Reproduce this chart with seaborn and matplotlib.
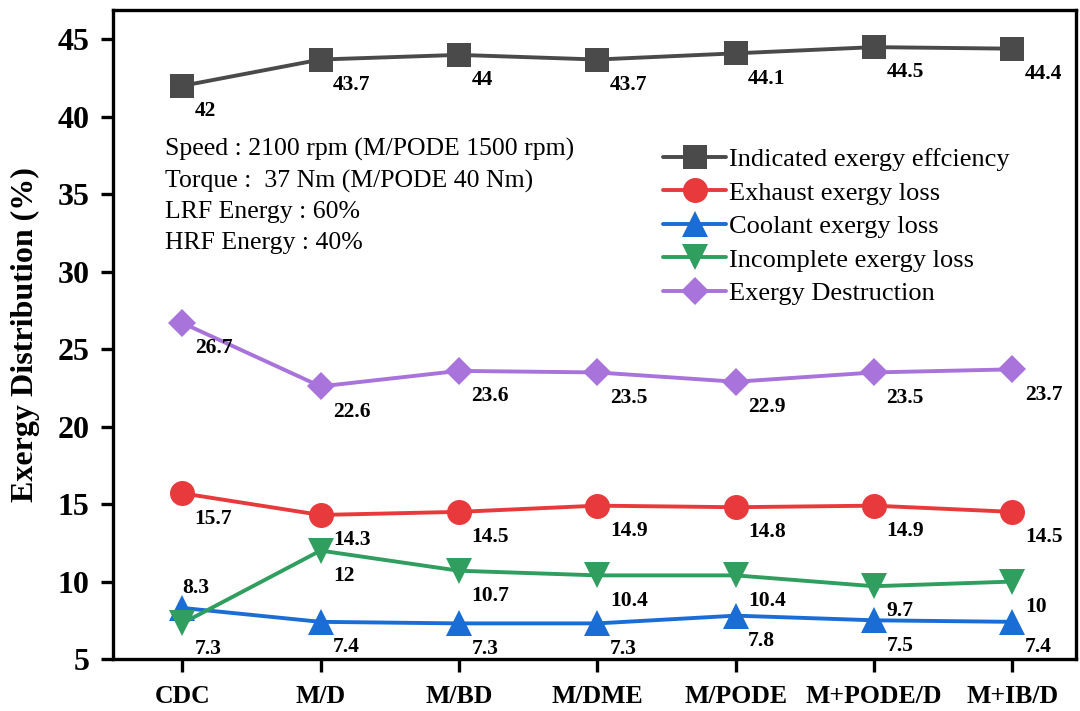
import matplotlib
matplotlib.use("Agg")
import matplotlib.pyplot as plt
import seaborn as sns

categories = ["CDC", "M/D", "M/BD", "M/DME", "M/PODE", "M+PODE/D", "M+IB/D"]
indicated = [42, 43.7, 44, 43.7, 44.1, 44.5, 44.4]
exhaust = [15.7, 14.3, 14.5, 14.9, 14.8, 14.9, 14.5]
coolant = [8.3, 7.4, 7.3, 7.3, 7.8, 7.5, 7.4]
incomplete = [7.3, 12, 10.7, 10.4, 10.4, 9.7, 10]
destruction = [26.7, 22.6, 23.6, 23.5, 22.9, 23.5, 23.7]

series_names = ["Indicated exergy effciency", "Exhaust exergy loss",
                "Coolant exergy loss", "Incomplete exergy loss", "Exergy Destruction"]
conditions = ["Speed : 2100 rpm (M/PODE 1500 rpm)",
              "Torque :  37 Nm (M/PODE 40 Nm)",
              "LRF Energy : 60%",
              "HRF Energy : 40%"]

sns.set_style("ticks")
plt.rcParams["font.family"] = ["Liberation Serif", "DejaVu Serif"]
for key in ["text.color", "axes.labelcolor", "xtick.color", "ytick.color"]:
    plt.rcParams[key] = "black"

fig = plt.figure(figsize=(10.8, 7.11), dpi=100)
ax = fig.add_axes([0.1046, 0.0731, 0.8917, 0.9129])

styles = [
    (indicated, "#4a4a4a", "s", 17),
    (exhaust, "#e8393c", "o", 18),
    (coolant, "#1b6dd6", "^", 19),
    (incomplete, "#2f9e5e", "v", 19),
    (destruction, "#a873da", "D", 14.5),
]

for (vals, color, marker, ms), name in zip(styles, series_names):
    sns.lineplot(x=categories, y=vals, ax=ax, color=color, marker=marker,
                 markersize=ms, markeredgewidth=0, linewidth=2.8,
                 label=name, sort=False)
    for i, v in enumerate(vals):
        # the first coolant label sits above its marker, the rest below-right
        if name == "Coolant exergy loss" and i == 0:
            off, va = (0, 7), "bottom"
        else:
            off, va = (9, -11), "top"
        ax.annotate(f"{v:g}", (i, v), xytext=off, textcoords="offset points",
                    ha="left", va=va, fontsize=15.5, fontweight="bold")

ax.text(0.054, 0.803, "\n".join(conditions), transform=ax.transAxes,
        fontsize=18.5, va="top", ha="left", linespacing=1.5)

ax.set_xlim(-0.5, 6.46)
ax.set_ylim(5, 46.9)
ax.set_yticks(range(5, 46, 5))
ax.set_xlabel("")
ax.set_ylabel("Exergy Distribution (%)", fontsize=23, fontweight="bold")
ax.yaxis.set_label_coords(-0.076, 0.5)

for sp in ax.spines.values():
    sp.set_linewidth(2.4)
    sp.set_color("black")
ax.tick_params(axis="both", direction="out", length=9, width=2.4)
ax.tick_params(axis="y", labelsize=23, pad=8)
ax.tick_params(axis="x", labelsize=18.5, pad=10)
for lbl in ax.get_xticklabels() + ax.get_yticklabels():
    lbl.set_fontweight("bold")

leg = ax.legend(loc="upper left", bbox_to_anchor=(0.571, 0.788), frameon=False,
                fontsize=19, handlelength=2.4, handletextpad=0.1,
                labelspacing=0.38, borderaxespad=0, borderpad=0)

fig.savefig("out.png", dpi=100)
